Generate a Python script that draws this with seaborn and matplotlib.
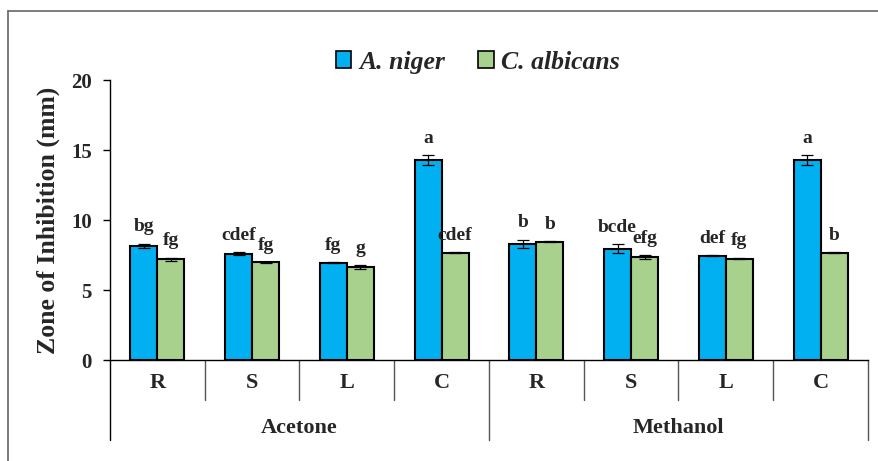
import numpy as np
import pandas as pd
import matplotlib.pyplot as plt
import seaborn as sns
from matplotlib.patches import Patch

# data
solvents = ["Acetone", "Methanol"]
parts = ["R", "S", "L", "C"]
organisms = ["A. niger", "C. albicans"]

niger_mean = [8.15, 7.6, 6.95, 14.3, 8.3, 7.95, 7.45, 14.3]
niger_err = [0.15, 0.1, 0.03, 0.35, 0.3, 0.3, 0.03, 0.35]
niger_sig = ["bg", "cdef", "fg", "a", "b", "bcde", "def", "a"]

albicans_mean = [7.2, 6.98, 6.65, 7.65, 8.45, 7.33, 7.25, 7.65]
albicans_err = [0.1, 0.03, 0.12, 0.04, 0.04, 0.15, 0.06, 0.04]
albicans_sig = ["fg", "fg", "g", "cdef", "b", "efg", "fg", "b"]

colors = {"A. niger": "#00B0F0", "C. albicans": "#A9D18E"}

groups = [f"{s} {p}" for s in solvents for p in parts]
df = pd.DataFrame({
    "group": groups * 2,
    "organism": [organisms[0]] * 8 + [organisms[1]] * 8,
    "zone": niger_mean + albicans_mean,
    "err": niger_err + albicans_err,
    "sig": niger_sig + albicans_sig,
})

sns.set_style("white")
plt.rcParams["font.family"] = ["Liberation Serif", "DejaVu Serif"]
plt.rcParams["font.weight"] = "bold"

fig = plt.figure(figsize=(8.79, 4.61), dpi=100)
ax = fig.add_axes([110 / 879, 101 / 461, 758 / 879, 280 / 461])

sns.barplot(data=df, x="group", y="zone", hue="organism", order=groups,
            hue_order=organisms, palette=colors, width=0.57, saturation=1,
            edgecolor="black", linewidth=1.5, errorbar=None, legend=False, ax=ax)

# error bars and significance letters, one per bar
for cont, org in zip(ax.containers, organisms):
    sub = df[df["organism"] == org].set_index("group").loc[groups]
    for bar, (_, row) in zip(cont, sub.iterrows()):
        xc = bar.get_x() + bar.get_width() / 2
        top = bar.get_height()
        ax.errorbar(xc, top, yerr=row["err"], color="black", lw=0.9,
                    capsize=4, capthick=0.9)
        ax.annotate(row["sig"], (xc, top + row["err"]), xytext=(0, 6),
                    textcoords="offset points", ha="center", va="bottom",
                    fontsize=14, fontweight="bold")

ax.set_xlim(-0.5, 7.5)
ax.set_ylim(0, 20)
ax.set_yticks([0, 5, 10, 15, 20])
ax.set_yticklabels(["0", "5", "10", "15", "20"], fontsize=15, fontweight="bold")
ax.tick_params(axis="y", direction="out", length=5, width=1, color="black", left=True, pad=8)
ax.set_xticks([])
ax.set_xlabel("")
ax.set_ylabel("Zone of Inhibition (mm)", fontsize=18.5, fontweight="bold", labelpad=8)

for side in ["top", "right"]:
    ax.spines[side].set_visible(False)
ax.spines["left"].set_color("black")
ax.spines["bottom"].set_color("black")
ax.spines["left"].set_linewidth(1)
ax.spines["bottom"].set_linewidth(1)

# two-level category axis drawn below the plot
trans = ax.get_xaxis_transform()
inner_bot = -40 / 280
outer_bot = -80 / 280
for i in range(9):
    x = i - 0.5
    bot = outer_bot if i in (0, 4, 8) else inner_bot
    col = "black" if i == 0 else "#555555"
    ax.plot([x, x], [0, bot], transform=trans, color=col, lw=1, clip_on=False)
for i, g in enumerate(groups):
    ax.text(i, -23 / 280, g.split()[1], transform=trans, ha="center", va="center",
            fontsize=16, fontweight="bold")
for j, s in enumerate(solvents):
    ax.text(j * 4 + 1.5, -68 / 280, s, transform=trans, ha="center", va="center",
            fontsize=16, fontweight="bold")

# outer frame lines (left and top)
fig.add_artist(plt.Line2D([8 / 879, 8 / 879], [0, 1 - 11 / 461], color="#666666", lw=1.2))
fig.add_artist(plt.Line2D([8 / 879, 1], [1 - 11 / 461, 1 - 11 / 461], color="#666666", lw=1.2))

handles = [Patch(facecolor=colors[o], edgecolor="black", linewidth=1.2, label=o) for o in organisms]
leg = fig.legend(handles=handles, loc="center", bbox_to_anchor=(478 / 879, 1 - 62 / 461),
                 ncol=2, frameon=False, handlelength=0.6, handleheight=0.6,
                 handletextpad=0.3, columnspacing=1.3,
                 prop={"size": 18.5, "style": "italic", "weight": "bold"})

fig.savefig("out.png", dpi=100)
